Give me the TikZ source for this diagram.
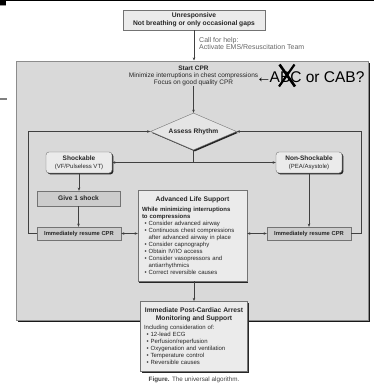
\documentclass[tikz,border=0pt]{standalone}
\usepackage{fontspec}
\setmainfont{Liberation Sans}
\usetikzlibrary{positioning, calc, arrows.meta, shapes.geometric, shadows}

\newcommand{\bul}{\hspace*{2.5pt}\textbullet\hspace{2pt}}
\newcommand{\bulcont}{\hspace*{2.5pt}\hphantom{\textbullet}\hspace{2pt}}

\begin{document}
\begin{tikzpicture}[x=1pt, y=-1pt, >={Stealth[length=3.2pt,width=2.6pt]},
    box/.style={draw=black!55, fill=black!8, line width=0.4pt, align=center, inner sep=0pt,
        text=black!85,
        drop shadow={shadow xshift=1.4pt, shadow yshift=-1.4pt, fill=black!85, opacity=1}},
    dkbox/.style={box, fill=black!20},
    rbox/.style={box, rounded corners=3pt},
    conn/.style={draw=black!75, line width=0.5pt}]

    % Frame and edge marks
    \useasboundingbox (0,0) rectangle (374,388);
    \fill[black] (0,0) rectangle (374,1.3);
    \fill[black] (0,0) rectangle (6,5);
    \fill[black!40] (0,5) rectangle (6,6);
    \fill[black!50] (0,98) rectangle (7,99.5);

    % Big CPR panel
    \node[draw=black!45, fill=black!15, line width=1pt, minimum width=352pt, minimum height=259pt,
        drop shadow={shadow xshift=1.5pt, shadow yshift=-1.5pt, fill=black!90, opacity=1}] (panel) at (192,190.5) {};

    % Top box
    \node[box, minimum width=142pt, minimum height=20pt, font=\fontsize{6.7}{7.5}\selectfont\bfseries] (unresp) at (194,20)
        {Unresponsive\\Not breathing or only occasional gaps};
    \node[anchor=west, inner sep=0pt, align=left, text=black!60, font=\fontsize{7}{7}\selectfont] (help) at (199,43.5)
        {Call for help:\\Activate EMS/Resuscitation Team};

    % Start CPR text
    \node[inner sep=0pt, align=center, text=black!85, font=\fontsize{6.5}{7}\selectfont] (start) at (193.5,76)
        {\textbf{Start CPR}\\Minimize interruptions in chest compressions\\Focus on good quality CPR};
    \node[anchor=base west, inner sep=0pt, font=\fontsize{15.5}{16}\selectfont] (abc) at (256,82.5) {←\hspace{-2pt}ABC or CAB?};
    \draw[line width=2.6pt] (279.5,64.5) -- (295,86.5);
    \draw[line width=2.2pt] (294.5,64.5) -- (279,86.5);

    % Rhythm check
    \node[box, diamond, aspect=2.3, fill=black!10, minimum width=86pt, minimum height=37pt,
        font=\fontsize{6.6}{7}\selectfont\bfseries] (rhythm) at (193.5,131.5) {Assess Rhythm};
    \node[rbox, minimum width=66pt, minimum height=21pt, font=\fontsize{6}{7}\selectfont] (shock) at (79,162.5)
        {{\fontsize{6.5}{7}\selectfont\bfseries Shockable}\\[1pt](VF/Pulseless VT)};
    \node[rbox, minimum width=66pt, minimum height=21pt, font=\fontsize{6}{7}\selectfont] (nonshock) at (309,162.5)
        {{\fontsize{6.5}{7}\selectfont\bfseries Non-Shockable}\\[1pt](PEA/Asystole)};

    % Left and right branches
    \node[dkbox, minimum width=83pt, minimum height=15pt, font=\fontsize{6.6}{7}\selectfont\bfseries] (give) at (78.5,198.5) {Give 1 shock};
    \node[dkbox, minimum width=84pt, minimum height=13pt, font=\fontsize{5.8}{7}\selectfont\bfseries] (resumeL) at (79,233.5) {Immediately resume CPR};
    \node[dkbox, minimum width=84pt, minimum height=13pt, font=\fontsize{5.8}{7}\selectfont\bfseries] (resumeR) at (309,233.5) {Immediately resume CPR};

    % Advanced life support
    \node[box, anchor=north, minimum width=109pt, minimum height=91pt, text width=101pt, align=left,
        font=\fontsize{6}{7}\selectfont] (als) at (192.5,190)
        {\makebox[101pt]{\fontsize{6.7}{7}\selectfont\bfseries Advanced Life Support}\\[3pt]
        \textbf{While minimizing interruptions}\\
        \textbf{to compressions}\\
        \bul Consider advanced airway\\
        \bul Continuous chest compressions\\
        \bulcont after advanced airway in place\\
        \bul Consider capnography\\
        \bul Obtain IV/IO access\\
        \bul Consider vasopressors and\\
        \bulcont antiarrhythmics\\
        \bul Correct reversible causes};

    % Post-arrest care
    \node[box, anchor=north, minimum width=107pt, minimum height=70pt, text width=100pt, align=left,
        font=\fontsize{6}{7}\selectfont] (post) at (194,301)
        {\makebox[100pt]{\fontsize{6.7}{7}\selectfont\bfseries Immediate Post-Cardiac Arrest}\\[0.7pt]
        \makebox[100pt]{\fontsize{6.7}{7}\selectfont\bfseries Monitoring and Support}\\[2.5pt]
        Including consideration of:\\
        \bul 12-lead ECG\\
        \bul Perfusion/reperfusion\\
        \bul Oxygenation and ventilation\\
        \bul Temperature control\\
        \bul Reversible causes};
    \node[inner sep=0pt, text=black!75, font=\fontsize{6.3}{7}\selectfont] (caption) at (194,379.5)
        {\textbf{Figure.} The universal algorithm.};

    % Connectors
    \draw[conn, ->] (unresp.south) -- (unresp.south |- panel.north);
    \draw[conn, ->] (start.south) -- (rhythm.north);
    \coordinate (split) at (rhythm.south |- shock.east);
    \draw[conn] (rhythm.south) -- (split);
    \draw[conn, ->] (split) -- (shock.east);
    \draw[conn, ->] (split) -- (nonshock.west);
    \draw[conn, ->] (shock.south) -- (shock.south |- give.north);
    \draw[conn, ->] (give.south) -- (give.south |- resumeL.north);
    \draw[conn, ->] (nonshock.south) -- (resumeR.north);
    \draw[conn, <->] (resumeL.east) -- (resumeL.east -| als.west);
    \draw[conn, <->] (resumeR.west -| als.east) -- (resumeR.west);
    \draw[conn, ->] (resumeL.west) -- ++(-9,0) |- (rhythm.west);
    \draw[conn, ->] (resumeR.east) -- ++(10,0) |- (rhythm.east);
    \draw[conn, ->] (als.south -| post.north) -- (post.north);

\end{tikzpicture}
\end{document}
